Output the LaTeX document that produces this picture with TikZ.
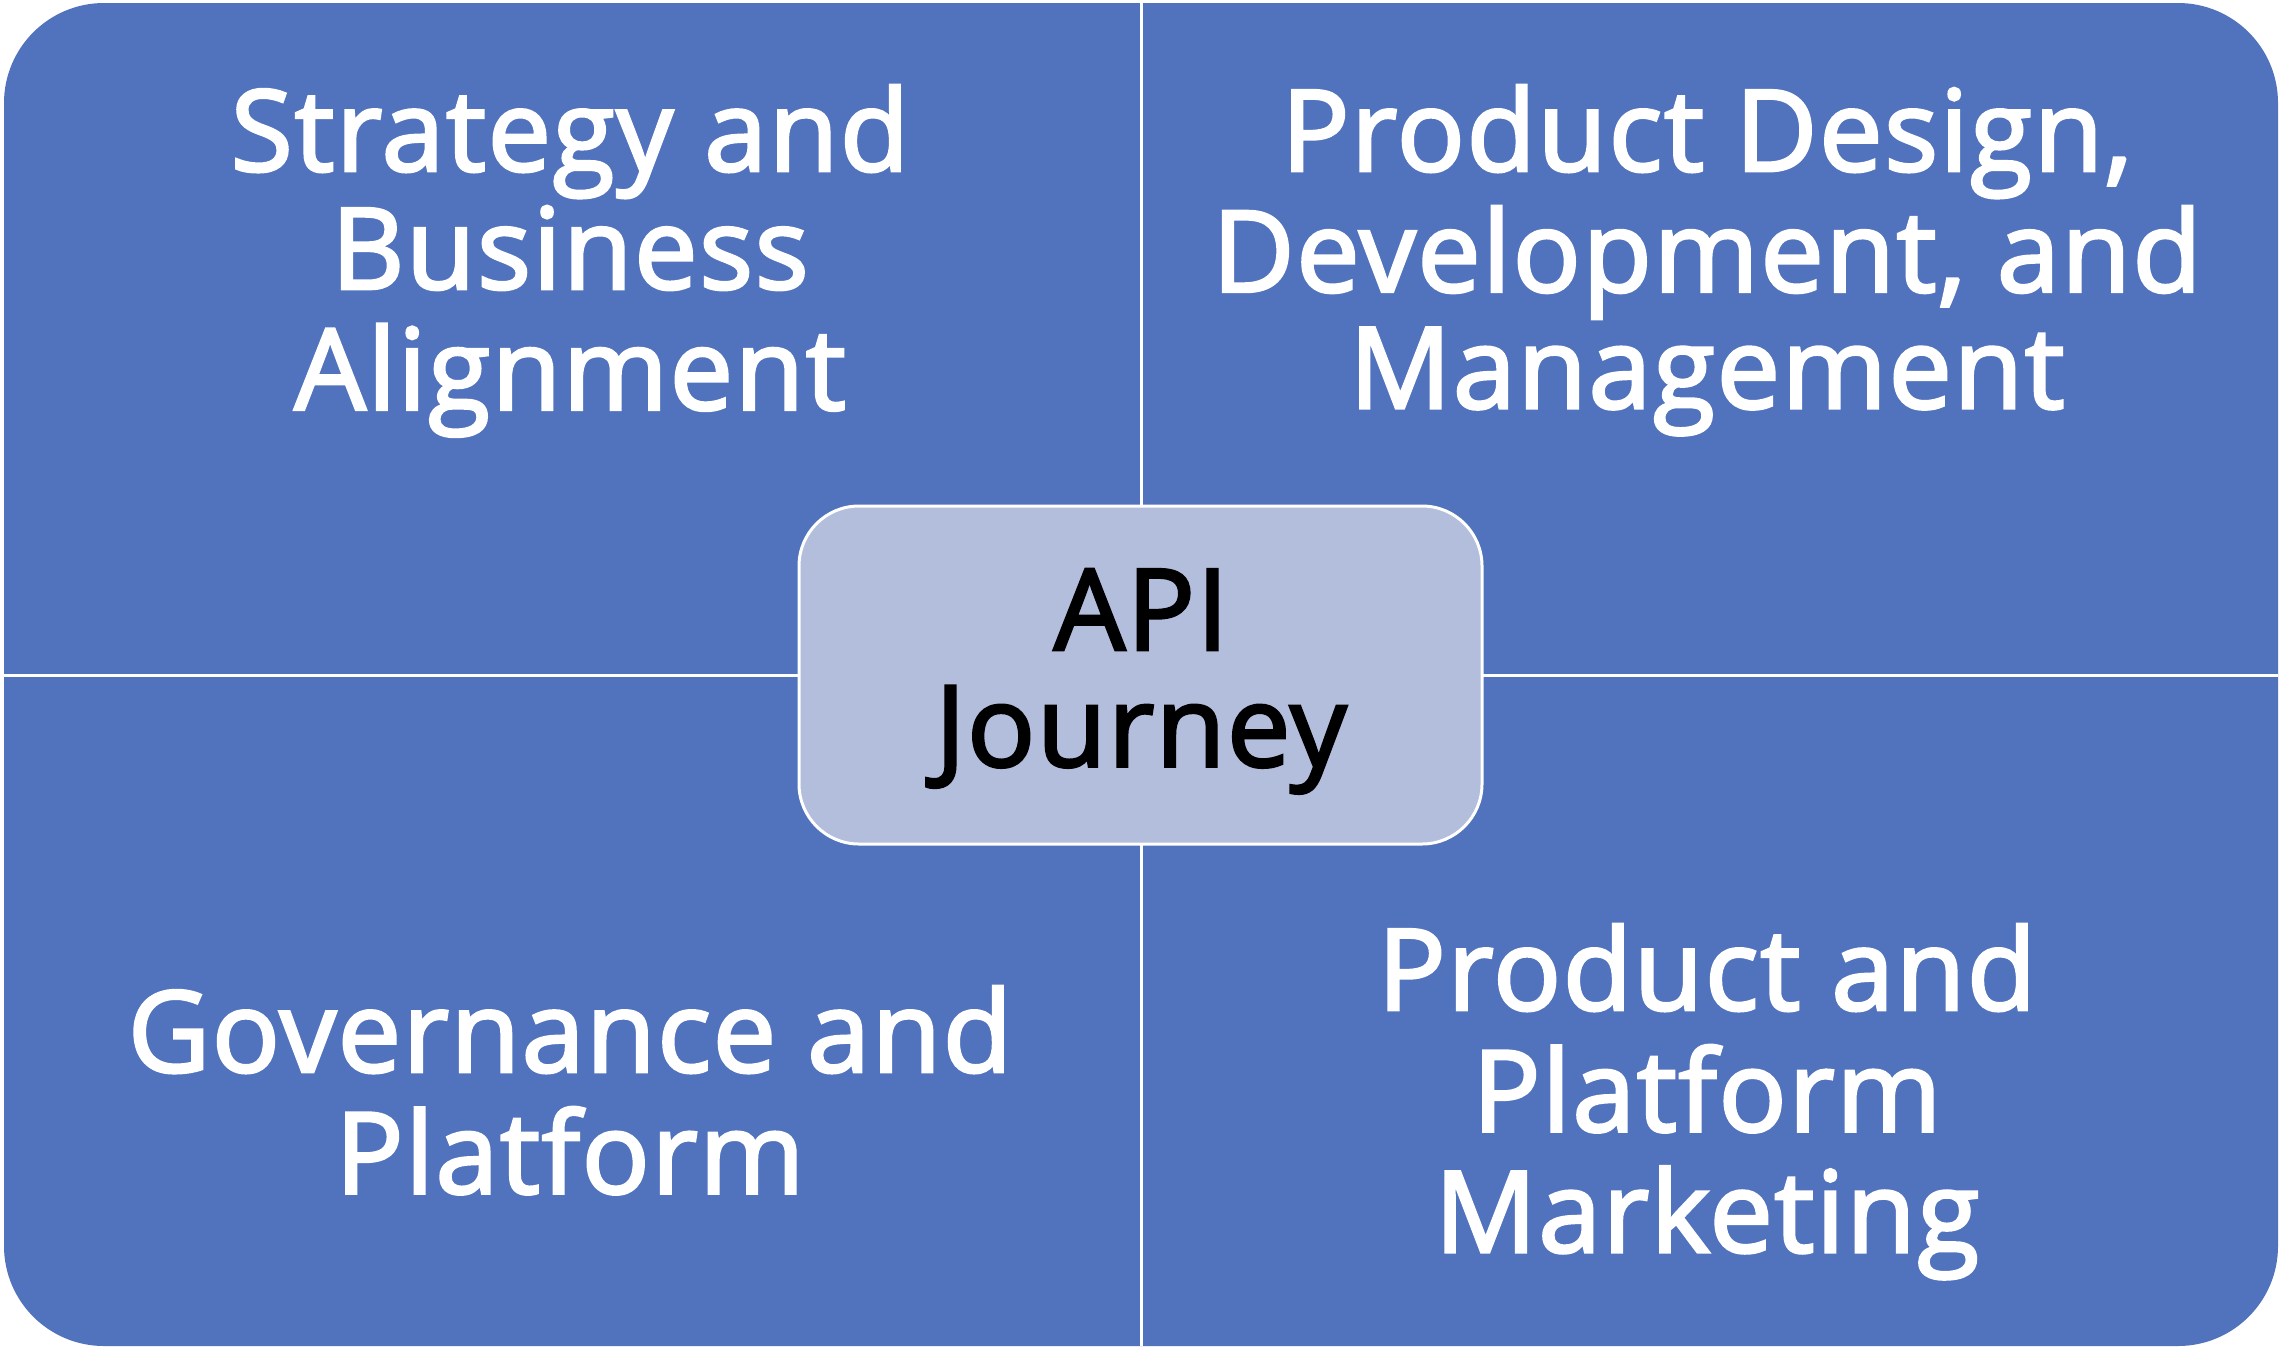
\documentclass[tikz,border=0pt]{standalone}
\usepackage{fontspec}
\setmainfont{Open Sans}[FakeBold=2.5,LetterSpace=1.5]
\definecolor{quadblue}{HTML}{5173BE}
\definecolor{centerfill}{HTML}{B3BDDC}
\begin{document}
\begin{tikzpicture}[x=1pt,y=-1pt,
  quadtext/.style={anchor=base,text=white,inner sep=0pt,font=\fontsize{113}{116.5}\selectfont},
  centertext/.style={anchor=base,text=black,inner sep=0pt,font=\fontsize{113}{116.5}\selectfont},
  divider/.style={white,line width=3pt}]
\useasboundingbox (0,0) rectangle (2282,1350);
\fill[quadblue,rounded corners=100pt] (4,3) rectangle (2278,1346);
\coordinate (vt) at (1141,3);
\coordinate (vb) at (1141,1346);
\coordinate (hl) at (4,675);
\coordinate (hr) at (2278,675);
\draw[divider] (vt) -- (vb);
\draw[divider] (hl) -- (hr);
\draw[white,line width=3pt,fill=centerfill,rounded corners=60pt] (799,506) rectangle (1482,844);
\node[quadtext] (tl) at (570,171) {\begin{tabular}[t]{@{}c@{}}Strategy and\\Business\\Alignment\end{tabular}};
\node[quadtext] (tr) at (1707,171) {\begin{tabular}[t]{@{}c@{}}Product Design,\\Development, and\\Management\end{tabular}};
\node[quadtext] (bl) at (570,1072) {\begin{tabular}[t]{@{}c@{}}Governance and\\Platform\end{tabular}};
\node[quadtext] (br) at (1707,1010) {\begin{tabular}[t]{@{}c@{}}Product and\\Platform\\Marketing\end{tabular}};
\node[centertext] (api) at (1141,650) {\begin{tabular}[t]{@{}c@{}}API\\Journey\end{tabular}};
\end{tikzpicture}
\end{document}
